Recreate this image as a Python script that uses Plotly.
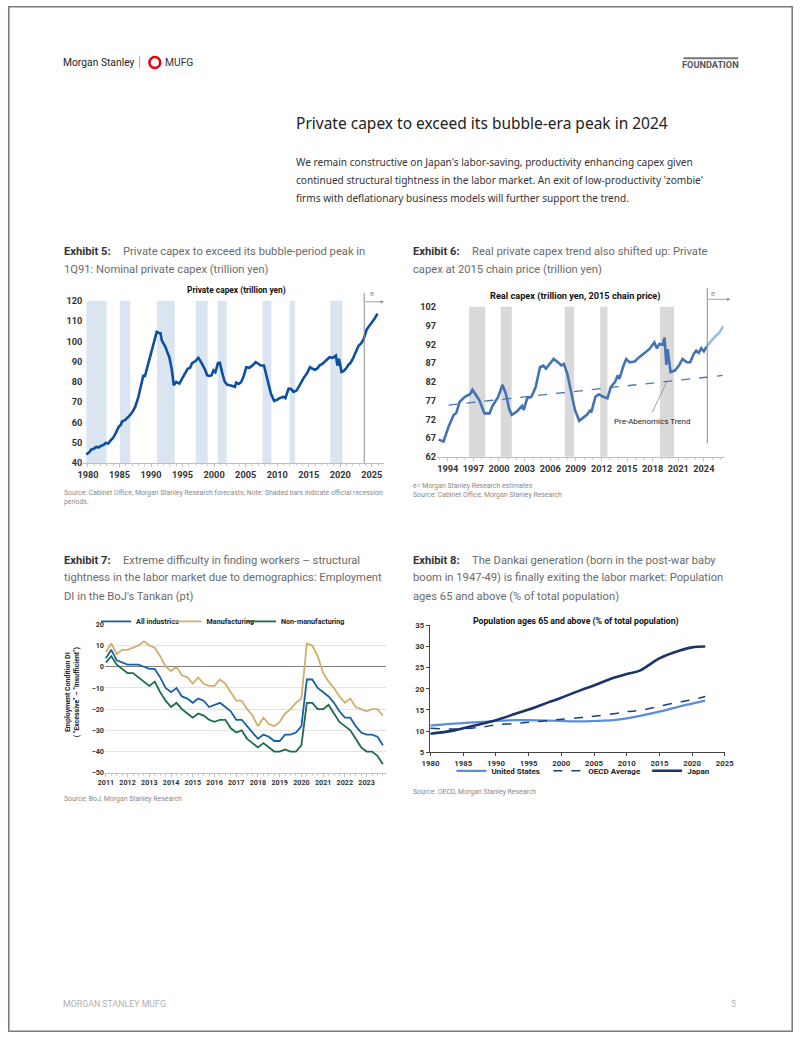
import plotly.graph_objects as go

W, H = 802, 1037
def px(x): return x / W
def py(y): return 1 - y / H

COND = "Liberation Sans Narrow, Roboto, Arial"
BODY = "Roboto, Noto Sans, Arial"

# ---------------- Exhibit 5: nominal private capex ----------------
capex_years = [
    1979.75, 1980.25, 1980.5, 1981.0, 1981.3, 1981.75, 1982.1, 1982.5, 1982.8, 1983.2,
    1983.6, 1984.0, 1984.4, 1984.9, 1985.2, 1985.4, 1985.9, 1986.3, 1986.7, 1987.1,
    1987.5, 1988.0, 1988.5, 1988.8, 1989.0, 1989.3, 1989.6, 1990.1, 1990.6, 1990.9,
    1991.2, 1991.5, 1991.7, 1991.9, 1992.3, 1992.6, 1992.9, 1993.3, 1993.6, 1994.0,
    1994.5, 1994.9, 1995.3, 1995.8, 1996.2, 1996.5, 1997.0, 1997.5, 1997.8, 1998.1,
    1998.5, 1998.9, 1999.3, 1999.6, 1999.9, 2000.2, 2000.6, 2000.9, 2001.1, 2001.4,
    2001.7, 2002.1, 2002.5, 2002.9, 2003.3, 2003.5, 2003.9, 2004.3, 2004.7, 2005.1,
    2005.6, 2006.1, 2006.6, 2007.0, 2007.4, 2007.9, 2008.4, 2009.0, 2009.5, 2010.0,
    2010.3, 2010.7, 2011.0, 2011.3, 2011.8, 2012.2, 2012.6, 2013.1, 2013.5, 2013.9,
    2014.3, 2014.7, 2015.2, 2015.6, 2016.0, 2016.4, 2016.7, 2017.2, 2017.8, 2018.3,
    2018.8, 2019.0, 2019.3, 2019.5, 2019.6, 2019.8, 2020.0, 2020.2, 2020.5, 2020.9,
    2021.3, 2021.6, 2022.0, 2022.4, 2022.9, 2023.3, 2023.7, 2024.2, 2024.6, 2025.0,
    2025.4, 2025.9]
capex_values = [
    44.2, 45.5, 46.7, 47.2, 48.0, 47.8, 48.6, 49.0, 49.9, 49.6,
    51.2, 52.5, 54.8, 58.0, 58.8, 60.5, 61.3, 62.4, 63.7, 65.5,
    67.8, 72.7, 79.2, 83.5, 82.5, 86.0, 88.1, 94.6, 100.3, 104.7,
    104.3, 104.0, 100.5, 99.5, 97.1, 94.5, 92.2, 86.0, 78.4, 80.0,
    79.2, 81.5, 84.1, 86.5, 87.0, 89.3, 90.2, 91.9, 90.5, 88.9,
    86.5, 83.3, 83.0, 83.3, 85.7, 84.8, 89.3, 89.5, 86.5, 83.0,
    80.0, 78.6, 78.4, 78.0, 77.6, 79.7, 79.0, 80.0, 83.0, 87.3,
    87.0, 88.2, 89.8, 89.0, 88.1, 88.1, 82.4, 74.3, 70.7, 71.2,
    71.9, 72.5, 72.7, 72.0, 76.7, 76.5, 75.1, 75.9, 78.0, 80.8,
    82.5, 84.1, 87.3, 86.5, 86.0, 86.8, 88.1, 89.0, 90.9, 92.2,
    91.9, 92.5, 93.0, 89.0, 88.1, 91.4, 88.5, 84.9, 85.3, 86.5,
    88.5, 89.3, 91.5, 94.6, 97.9, 99.0, 101.1, 106.0, 107.5, 109.3,
    111.0, 113.7]
rec5_start = [1979.75, 1985.06, 1990.96, 1997.07, 2000.58, 2007.67, 2011.97, 2018.42]
rec5_end   = [1982.95, 1986.72, 1993.75, 1998.98, 2001.98, 2009.07, 2012.84, 2020.35]
ex5_forecast_start = 2023.8

# ---------------- Exhibit 6: real private capex ----------------
real_years = [
    1992.93, 1993.5, 1994.1, 1994.7, 1995.0, 1995.4, 1996.0, 1996.6, 1996.9, 1997.3,
    1997.7, 1998.3, 1998.9, 1999.2, 1999.6, 1999.9, 2000.4, 2000.8, 2001.2, 2001.5,
    2002.1, 2002.7, 2002.9, 2003.3, 2003.8, 2004.3, 2004.8, 2005.2, 2005.5, 2005.9,
    2006.4, 2006.9, 2007.3, 2007.6, 2008.0, 2008.4, 2008.9, 2009.4, 2009.8, 2010.3,
    2010.7, 2010.8, 2011.3, 2011.7, 2012.2, 2012.7, 2013.1, 2013.6, 2013.9, 2014.1,
    2014.6, 2014.9, 2015.3, 2015.9, 2016.4, 2017.0, 2017.6, 2018.2, 2018.5, 2018.8,
    2019.2, 2019.4, 2019.6, 2019.75, 2020.1, 2020.6, 2021.1, 2021.5, 2022.0, 2022.4,
    2022.8, 2023.1, 2023.4, 2023.7, 2024.0, 2024.3]
real_values = [
    66.6, 66.1, 70.1, 73.2, 73.7, 76.7, 78.0, 78.7, 79.9, 78.5,
    77.1, 73.6, 73.6, 75.4, 76.7, 78.0, 81.2, 78.9, 74.7, 73.2,
    74.1, 75.6, 74.5, 77.6, 78.0, 80.6, 85.9, 86.3, 85.5, 86.6,
    88.1, 87.2, 86.4, 86.8, 84.2, 79.8, 74.5, 71.6, 72.3, 73.2,
    74.5, 73.8, 78.0, 78.7, 78.0, 77.6, 80.6, 82.0, 83.7, 82.8,
    86.4, 88.1, 87.2, 87.4, 88.5, 89.6, 90.7, 92.5, 90.9, 92.1,
    91.9, 93.8, 86.5, 90.7, 84.6, 85.0, 86.4, 88.1, 87.2, 87.2,
    89.4, 90.3, 89.7, 91.0, 90.1, 91.4]
real_fc_years = [2024.3, 2024.7, 2025.2, 2025.8, 2026.3]
real_fc_values = [91.4, 92.5, 93.8, 95.1, 96.9]
trend_years = [1994.1, 2026.2]
trend_values = [75.8, 83.7]
rec6_start = [1996.5, 2000.2, 2007.7, 2011.85, 2018.85]
rec6_end   = [1998.4, 2001.5, 2008.8, 2012.7, 2020.5]
ex6_forecast_start = 2024.4

# ---------------- Exhibit 7: Tankan employment DI ----------------
tankan_start_year = 2011
all_industries = [4, 8, 3, 2, 1, 1, 1, 0, -1, -1,
                  -5, -10, -12, -10, -14, -15, -17, -15, -16, -19,
                  -18, -17, -19, -21, -25, -25, -28, -31, -34, -32,
                  -33, -35, -35, -32, -32, -31, -28, -6, -6, -10,
                  -12, -14, -17, -21, -24, -24, -28, -31, -32, -32,
                  -33, -37]
manufacturing = [7, 11, 6, 8, 8, 9, 10, 12, 10, 9,
                 5, 0, -2, 0, -4, -5, -8, -5, -8, -9,
                 -9, -6, -8, -12, -16, -16, -20, -23, -28, -24,
                 -27, -28, -26, -22, -20, -17, -15, 11, 10, 5,
                 -3, -7, -10, -14, -17, -15, -19, -20, -21, -20,
                 -20, -23]
non_manufacturing = [2, 5, 1, -1, -3, -3, -5, -7, -9, -7,
                     -12, -16, -19, -17, -20, -22, -24, -22, -23, -25,
                     -26, -25, -25, -29, -31, -30, -34, -36, -38, -36,
                     -38, -40, -40, -39, -40, -40, -37, -17, -17, -20,
                     -20, -18, -22, -26, -28, -30, -34, -38, -40, -40,
                     -42, -46]
tankan_x = [tankan_start_year + i / 4 for i in range(len(all_industries))]
tankan_years = list(range(2011, 2024))

# ---------------- Exhibit 8: population ages 65+ ----------------
pop_years = [1980, 1983, 1985, 1988, 1990, 1993, 1995, 1998, 2000, 2003,
             2005, 2008, 2010, 2012, 2015, 2018, 2020, 2022]
japan = [9.4, 10.0, 10.7, 11.8, 12.6, 14.1, 15.1, 16.8, 17.9, 19.7,
         20.8, 22.6, 23.5, 24.3, 27.2, 29.0, 29.8, 30.0]
united_states = [11.3, 11.7, 11.9, 12.2, 12.4, 12.6, 12.6, 12.5, 12.4, 12.3,
                 12.4, 12.6, 13.0, 13.6, 14.6, 15.8, 16.5, 17.2]
oecd_average = [10.7, 10.5, 10.6, 11.0, 11.5, 11.8, 12.1, 12.5, 12.8, 13.2,
                13.5, 14.1, 14.6, 14.9, 15.9, 16.9, 17.4, 18.2]

fig = go.Figure()

# Exhibit 5 traces
fig.add_trace(go.Scatter(x=capex_years, y=capex_values, mode="lines",
                         line=dict(color="#0d4f9e", width=2.6),
                         xaxis="x", yaxis="y", showlegend=False, hoverinfo="skip"))
# Exhibit 6 traces
fig.add_trace(go.Scatter(x=trend_years, y=trend_values, mode="lines",
                         line=dict(color="#4a78b8", width=1.3, dash="dash"),
                         xaxis="x2", yaxis="y2", showlegend=False, hoverinfo="skip"))
fig.add_trace(go.Scatter(x=real_years, y=real_values, mode="lines",
                         line=dict(color="#4473b5", width=2.6),
                         xaxis="x2", yaxis="y2", showlegend=False, hoverinfo="skip"))
fig.add_trace(go.Scatter(x=real_fc_years, y=real_fc_values, mode="lines",
                         line=dict(color="#9dbbe3", width=2.6),
                         xaxis="x2", yaxis="y2", showlegend=False, hoverinfo="skip"))
# Exhibit 7 traces (one legend per entry so each can be placed like the original)
for name, vals, col, leg in [("All industries", all_industries, "#175fa6", "legend"),
                             ("Manufacturing", manufacturing, "#cdb06a", "legend3"),
                             ("Non-manufacturing", non_manufacturing, "#1d6a4c", "legend4")]:
    fig.add_trace(go.Scatter(x=tankan_x, y=vals, mode="lines", name=name,
                             line=dict(color=col, width=1.8),
                             xaxis="x3", yaxis="y3", legend=leg, hoverinfo="skip"))
# Exhibit 8 traces
fig.add_trace(go.Scatter(x=pop_years, y=united_states, mode="lines", name="United States",
                         line=dict(color="#5b8ed8", width=2.2, shape="spline"),
                         xaxis="x4", yaxis="y4", legend="legend2", hoverinfo="skip"))
fig.add_trace(go.Scatter(x=pop_years, y=oecd_average, mode="lines", name="OECD Average",
                         line=dict(color="#203c78", width=1.5, dash="dash", shape="spline"),
                         xaxis="x4", yaxis="y4", legend="legend5", hoverinfo="skip"))
fig.add_trace(go.Scatter(x=pop_years, y=japan, mode="lines", name="Japan",
                         line=dict(color="#1b3469", width=2.6, shape="spline"),
                         xaxis="x4", yaxis="y4", legend="legend6", hoverinfo="skip"))

shapes = []
for s, e in zip(rec5_start, rec5_end):
    shapes.append(dict(type="rect", xref="x", yref="y domain", x0=s, x1=e, y0=0, y1=1,
                       fillcolor="#dbe5f1", line=dict(width=0), layer="below"))
for s, e in zip(rec6_start, rec6_end):
    shapes.append(dict(type="rect", xref="x2", yref="y2 domain", x0=s, x1=e, y0=0, y1=1,
                       fillcolor="#d9d9d9", line=dict(width=0), layer="below"))
# forecast separators
shapes.append(dict(type="line", xref="x", yref="paper", x0=ex5_forecast_start, x1=ex5_forecast_start,
                   y0=py(462), y1=py(290), line=dict(color="#8c8c8c", width=1)))
shapes.append(dict(type="line", xref="x2", yref="paper", x0=ex6_forecast_start, x1=ex6_forecast_start,
                   y0=py(442), y1=py(285), line=dict(color="#8c8c8c", width=1)))
# leader line for trend label
shapes.append(dict(type="line", xref="paper", yref="paper", x0=px(658), y0=py(411), x1=px(673), y1=py(380),
                   line=dict(color="#8c8c8c", width=0.8)))
# legend background strip in Exhibit 7 (covers the top gridline like the original legend box)
shapes.append(dict(type="rect", xref="paper", yref="paper", x0=px(99.5), x1=px(346), y0=py(628), y1=py(617),
                   fillcolor="white", line=dict(width=0), layer="above"))
# logo
shapes.append(dict(type="circle", xref="paper", yref="paper", x0=px(144.5), x1=px(155.5), y0=py(62.5), y1=py(51.5),
                   line=dict(color="#e60012", width=2.6)))
shapes.append(dict(type="line", xref="paper", yref="paper", x0=px(134.5), x1=px(134.5), y0=py(63), y1=py(51),
                   line=dict(color="#999", width=0.8)))
# FOUNDATION bar
shapes.append(dict(type="rect", xref="paper", yref="paper", x0=px(690), x1=px(746), y0=py(53.8), y1=py(51.8),
                   fillcolor="#777", line=dict(width=0)))
# page frame
shapes.append(dict(type="rect", xref="paper", yref="paper", x0=px(0.8), x1=px(801.2), y0=py(1036.2), y1=py(0.8),
                   line=dict(color="#7a7a7a", width=1.6)))

ann = []
def text(x, y, t, size, color="#333", family=BODY, xanchor="left", **kw):
    ann.append(dict(xref="paper", yref="paper", x=px(x), y=py(y), text=t, showarrow=False,
                    xanchor=xanchor, yanchor="middle", font=dict(size=size, color=color, family=family), **kw))

# header / footer
text(54, 57, "Morgan Stanley", 10.3, "#222", COND)
text(158, 57, "MUFG", 10.3, "#333", COND)
text(718, 59, "<b>FOUNDATION</b>", 9.2, "#555", COND, xanchor="center")
text(54, 1009, "MORGAN STANLEY MUFG", 8.8, "#b0b0b0", BODY)
text(746, 1009, "5", 8.8, "#b0b0b0", BODY, xanchor="right")

# section
text(292, 118, "Private capex to exceed its bubble-era peak in 2024", 15.5, "#222", "Noto Sans")
text(292, 158, "We remain constructive on Japan's labor-saving, productivity enhancing capex given", 10.1, "#333", "Noto Sans")
text(292, 176, "continued structural tightness in the labor market. An exit of low-productivity 'zombie'", 10.1, "#333", "Noto Sans")
text(292, 194, "firms with deflationary business models will further support the trend.", 10.1, "#333", "Noto Sans")

GREY = "#6b6b6b"
HS = 11.2
# exhibit headings
text(55, 248, "<b>Exhibit 5:</b>", HS, "#333")
text(115, 248, "Private capex to exceed its bubble-period peak in", HS, GREY)
text(55, 266, "1Q91: Nominal private capex (trillion yen)", HS, GREY)
text(412, 248, "<b>Exhibit 6:</b>", HS, "#333")
text(472, 248, "Real private capex trend also shifted up: Private", HS, GREY)
text(412, 266, "capex at 2015 chain price (trillion yen)", HS, GREY)
text(55, 560, "<b>Exhibit 7:</b>", HS, "#333")
text(115, 560, "Extreme difficulty in finding workers – structural", HS, GREY)
text(55, 578, "tightness in the labor market due to demographics: Employment", HS, GREY)
text(55, 597, "DI in the BoJ's Tankan (pt)", HS, GREY)
text(412, 560, "<b>Exhibit 8:</b>", HS, "#333")
text(472, 560, "The Dankai generation (born in the post-war baby", HS, GREY)
text(412, 578, "boom in 1947-49) is finally exiting the labor market: Population", HS, GREY)
text(412, 597, "ages 65 and above (% of total population)", HS, GREY)

# sources
SRC = "#8a8a8a"
SS = 6.9
text(55, 492, "Source: Cabinet Office, Morgan Stanley Research forecasts; Note: Shaded bars indicate official recession", SS, SRC)
text(55, 501, "periods.", SS, SRC)
text(412, 485.5, "e= Morgan Stanley Research estimates", SS, SRC)
text(412, 494.3, "Source: Cabinet Office, Morgan Stanley Research", SS, SRC)
text(55, 802, "Source: BoJ, Morgan Stanley Research", SS, SRC)
text(412, 794, "Source: OECD, Morgan Stanley Research", SS, SRC)

# chart titles
text(233, 288, "<b>Private capex (trillion yen)</b>", 8.4, "#111", COND, xanchor="center")
text(580, 293, "<b>Real capex (trillion yen, 2015 chain price)</b>", 9.2, "#111", COND, xanchor="center")
text(580, 622, "<b>Population ages 65 and above (% of total population)</b>", 8.7, "#111", COND, xanchor="center")
text(658, 419.5, "Pre-Abenomics Trend", 8, "#222", COND, xanchor="center")
text(66, 693, "<b>Employment Condition DI<br>( \"Excessive\" – \"Insufficient\")</b>", 7, "#222", COND,
     xanchor="center", textangle=-90)

# e markers
text(372, 291, "e", 7.5, "#8c8c8c", BODY, xanchor="center")
text(720, 291, "e", 7.5, "#8c8c8c", BODY, xanchor="center")
for x0, x1, yy in [(364, 384, 299), (714, 738, 296.5)]:
    ann.append(dict(xref="paper", yref="paper", x=px(x1), y=py(yy), ax=-(x1 - x0), ay=0,
                    showarrow=True, arrowhead=2, arrowsize=0.8, arrowwidth=0.8, arrowcolor="#8c8c8c", text=""))

tickfont = dict(size=9.2, color="#333", family=COND, weight="bold")
tick7 = dict(size=7.2, color="#333", family=COND, weight="bold")
tick8 = dict(size=7.8, color="#333", family=COND, weight="bold")

def leg(x, y, size=7.2, bg="rgba(0,0,0,0)"):
    return dict(orientation="h", x=px(x), y=py(y), xanchor="left", yanchor="middle",
                bgcolor=bg, font=dict(size=size, color="#222", family=COND, weight="bold"), itemwidth=30)

fig.update_layout(
    width=W, height=H, margin=dict(l=0, r=0, t=0, b=0),
    paper_bgcolor="white", plot_bgcolor="rgba(0,0,0,0)",
    shapes=shapes, annotations=ann,
    xaxis=dict(domain=[px(77), px(384)], range=[1979.27, 2026.91], tickvals=list(range(1980, 2026, 5)),
               showline=True, linecolor="#bfbfbf", ticks="outside", ticklen=3, tickcolor="#bfbfbf",
               minor=dict(dtick=1, ticks="outside", ticklen=2, tickcolor="#cfcfcf"),
               tickfont=tickfont, anchor="y", showgrid=False, zeroline=False, fixedrange=True),
    yaxis=dict(domain=[py(462), py(298)], range=[40, 120], dtick=10, tickfont=tickfont, anchor="x",
               showgrid=False, zeroline=False, ticks="", fixedrange=True),
    xaxis2=dict(domain=[px(438.3), px(731)], range=[1992.74, 2026.3], tickvals=list(range(1994, 2025, 3)),
                showline=True, linecolor="#bfbfbf", ticks="outside", ticklen=3, tickcolor="#bfbfbf",
                minor=dict(dtick=1, ticks="outside", ticklen=2, tickcolor="#cfcfcf"),
                tickfont=tickfont, anchor="y2", showgrid=False, zeroline=False, fixedrange=True),
    yaxis2=dict(domain=[py(455.7), py(304)], range=[62, 102], tick0=62, dtick=5, tickfont=tickfont, anchor="x2",
                showgrid=False, zeroline=False, ticks="", fixedrange=True),
    xaxis3=dict(domain=[px(99), px(386)], range=[2010.955, 2023.885], tickvals=tankan_years,
                showline=True, linecolor="#bfbfbf", ticks="outside", ticklen=3, tickcolor="#bfbfbf",
                minor=dict(dtick=0.25, ticks="outside", ticklen=2, tickcolor="#cfcfcf"),
                tickfont=tick7, anchor="y3", showgrid=False, zeroline=False, fixedrange=True),
    yaxis3=dict(domain=[py(775), py(625)], range=[-50, 20], dtick=10, anchor="x3",
                tickfont=tick7, showgrid=True, gridcolor="#e3e3e3",
                gridwidth=1, zeroline=True, zerolinecolor="#7f7f7f", zerolinewidth=1.2, ticks="",
                fixedrange=True),
    xaxis4=dict(domain=[px(431), px(733)], range=[1979.9, 2025.1], dtick=5, anchor="y4",
                showline=True, linecolor="#444", ticks="outside", ticklen=3, tickcolor="#444",
                tickfont=tick8, showgrid=False, zeroline=False, fixedrange=True),
    yaxis4=dict(domain=[py(754.3), py(626)], range=[5, 35], dtick=5, anchor="x4",
                showline=True, linecolor="#444", ticks="outside", ticklen=3, tickcolor="#444",
                tickfont=tick8, showgrid=False, zeroline=False, fixedrange=True),
    legend=leg(90, 622),
    legend3=leg(162, 622),
    legend4=leg(238, 622),
    legend2=leg(453, 773, 8),
    legend5=leg(552, 773, 8),
    legend6=leg(653, 773, 8),
)

fig.write_html("out.html", config={"displayModeBar": False},
               post_script="document.body.style.margin='0';document.body.style.padding='0';"
                           "document.documentElement.style.overflow='hidden';")
